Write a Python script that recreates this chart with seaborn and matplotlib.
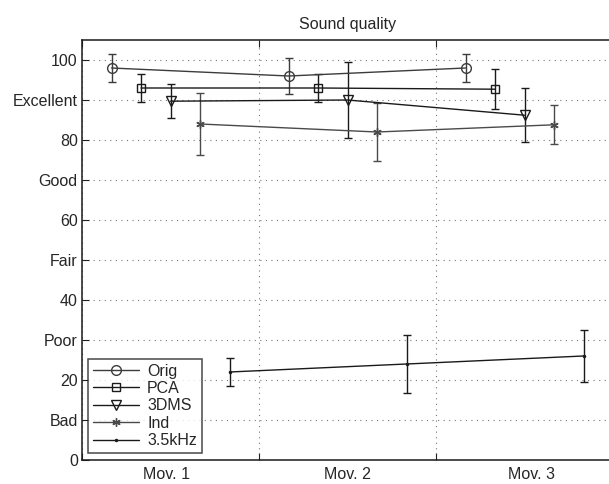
"""Sound quality ratings per movement, MATLAB-style errorbar chart."""

import matplotlib

matplotlib.use("Agg")
import matplotlib.pyplot as plt
import pandas as pd
import seaborn as sns


MOVEMENTS = ["Mov. 1", "Mov. 2", "Mov. 3"]
MOVEMENT_LABEL_POS = [0.48, 1.5, 2.54]
SERIES = ["Orig", "PCA", "3DMS", "Ind", "3.5kHz"]

ORIG_MEAN = [98.0, 96.0, 98.0]
ORIG_ERR = [3.6, 4.4, 3.6]
PCA_MEAN = [93.0, 93.0, 92.7]
PCA_ERR = [3.6, 3.6, 5.0]
DMS_MEAN = [89.7, 90.0, 86.2]
DMS_ERR = [4.2, 9.5, 6.8]
IND_MEAN = [84.0, 82.0, 83.8]
IND_ERR = [7.7, 7.3, 4.9]
KHZ_MEAN = [22.0, 24.0, 26.0]
KHZ_ERR = [3.6, 7.2, 6.6]

Y_TICKS = [0, 10, 20, 30, 40, 50, 60, 70, 80, 90, 100]
Y_LABELS = ["0", "Bad", "20", "Poor", "40", "Fair", "60", "Good", "80", "Excellent", "100"]

MARKERS = ["o", "s", "v", (6, 2, 0), "."]
MARKER_SIZES = [7, 5.5, 7, 6, 3]
COLORS = ["#3c3c3c", "#1a1a1a", "#1a1a1a", "#4a4a4a", "#1a1a1a"]


def build_frame() -> pd.DataFrame:
    means = [ORIG_MEAN, PCA_MEAN, DMS_MEAN, IND_MEAN, KHZ_MEAN]
    errs = [ORIG_ERR, PCA_ERR, DMS_ERR, IND_ERR, KHZ_ERR]
    rows = []
    for k, name in enumerate(SERIES):
        for m in range(len(MOVEMENTS)):
            rows.append(
                {
                    "series": name,
                    "x": m + (k + 1) / (len(SERIES) + 1),
                    "score": means[k][m],
                    "err": errs[k][m],
                }
            )
    return pd.DataFrame(rows)


df = build_frame()

sns.set_style("white")
plt.rcParams["font.family"] = ["Liberation Sans", "DejaVu Sans"]
plt.rcParams["font.size"] = 11.5

fig = plt.figure(figsize=(6.09, 4.84), dpi=100)
ax = fig.add_axes([82 / 609, 24 / 484, 531 / 609, 420 / 484])

for k, name in enumerate(SERIES):
    sub = df[df["series"] == name]
    ax.errorbar(
        sub["x"], sub["score"], yerr=sub["err"], fmt="none",
        ecolor=COLORS[k], elinewidth=1.0, capsize=2.6, capthick=1.0, zorder=2,
    )
    sns.lineplot(
        data=sub, x="x", y="score", ax=ax, label=name, color=COLORS[k],
        marker=MARKERS[k], markersize=MARKER_SIZES[k], mfc="none",
        mec=COLORS[k], mew=1.0, linewidth=1.0, errorbar=None, zorder=3,
    )

ax.set_xlim(0, 3)
ax.set_ylim(0, 105)
ax.set_xticks([0, 1, 2, 3])
ax.set_xticklabels([])
ax.set_xticks(MOVEMENT_LABEL_POS, minor=True)
ax.set_xticklabels(MOVEMENTS, minor=True)
ax.set_yticks(Y_TICKS)
ax.set_yticklabels(Y_LABELS)
ax.set_xlabel("")
ax.set_ylabel("")

ax.tick_params(axis="x", which="major", direction="in", length=5, width=0.8,
               top=True, bottom=True, color="#222222")
ax.tick_params(axis="x", which="minor", length=0, pad=5, labelsize=11.5)
ax.tick_params(axis="y", which="major", direction="in", length=5, width=0.8,
               left=True, pad=3, labelsize=11.5, color="#222222")

ax.grid(True, which="major", linestyle=(0, (1, 4)), color="#777777", linewidth=0.8)
for spine in ax.spines.values():
    spine.set_color("#1a1a1a")
    spine.set_linewidth(1.1)
ax.spines["right"].set_visible(False)

ax.set_title("Sound quality", fontsize=11.5, pad=8)

leg = ax.legend(
    loc="lower left", bbox_to_anchor=(6 / 531, 7 / 420), borderaxespad=0,
    fontsize=11.5, frameon=True, fancybox=False, handlelength=2.9,
    handletextpad=0.5, labelspacing=0.15, borderpad=0.3,
)
leg.get_frame().set_edgecolor("#1a1a1a")
leg.get_frame().set_linewidth(1.1)

fig.savefig("out.png", dpi=100)
